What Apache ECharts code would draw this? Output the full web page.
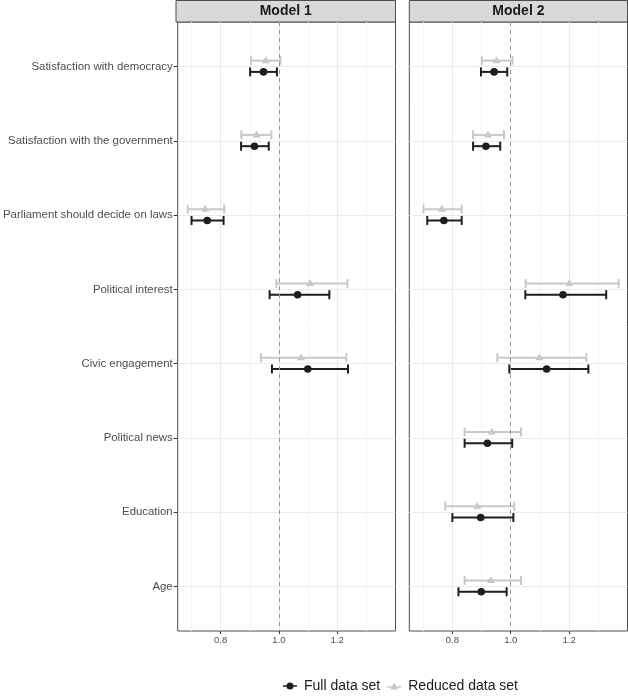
<!DOCTYPE html>
<html>
<head>
<meta charset="utf-8">
<title>Odds ratios, Model 1 and Model 2</title>
<script src="https://cdn.jsdelivr.net/npm/echarts@6/dist/echarts.min.js"></script>
<style>
    html, body { margin: 0; padding: 0; background: #fff; }
    #main { width: 628px; height: 699px; }
</style>
</head>
<body>
<div id="main"></div>
<script>
// categories, top to bottom
var categories = ['Satisfaction with democracy', 'Satisfaction with the government',
    'Parliament should decide on laws', 'Political interest', 'Civic engagement',
    'Political news', 'Education', 'Age'];
var catPositions = [1, 2, 3, 4, 5, 6, 7, 8];
var gridTicks = [0.7, 0.8, 0.9, 1.0, 1.1, 1.2, 1.3];
var labelTicks = [0.8, 1.0, 1.2];
var seriesNames = ['Full data set', 'Reduced data set'];
var modelNames = ['Model 1', 'Model 2'];

// Model 1 (only the first five predictors)
var m1FullEst  = [0.947, 0.916, 0.754, 1.064, 1.099];
var m1FullLow  = [0.901, 0.870, 0.700, 0.968, 0.976];
var m1FullHigh = [0.993, 0.965, 0.810, 1.173, 1.237];
var m1RedEst   = [0.955, 0.923, 0.747, 1.107, 1.076];
var m1RedLow   = [0.904, 0.871, 0.687, 0.991, 0.938];
var m1RedHigh  = [1.005, 0.974, 0.812, 1.235, 1.231];

// Model 2
var m2FullEst  = [0.943, 0.915, 0.771, 1.179, 1.123, 0.920, 0.897, 0.899];
var m2FullLow  = [0.898, 0.871, 0.714, 1.050, 0.995, 0.842, 0.800, 0.821];
var m2FullHigh = [0.988, 0.964, 0.832, 1.327, 1.266, 1.005, 1.009, 0.986];
var m2RedEst   = [0.951, 0.922, 0.764, 1.201, 1.098, 0.935, 0.885, 0.932];
var m2RedLow   = [0.901, 0.871, 0.701, 1.051, 0.954, 0.842, 0.776, 0.842];
var m2RedHigh  = [1.006, 0.977, 0.832, 1.370, 1.259, 1.035, 1.012, 1.035];

var fullColor = '#1e1e1e';
var redColor = '#c8c8c8';
var font = 'Liberation Sans';

// rows: [estimate, low, high, position]
function rows(est, low, high) {
    var out = [];
    for (var i = 0; i < est.length; i++) {
        out.push([est[i], low[i], high[i], catPositions[i]]);
    }
    return out;
}

// error bar + point, shifted up/down inside the row (dodge)
function errorBar(shape, shift) {
    return function (params, api) {
        var pos = api.value(3);
        var band = api.size([0, 1])[1];
        var mid = api.coord([api.value(0), pos]);
        var lo = api.coord([api.value(1), pos]);
        var hi = api.coord([api.value(2), pos]);
        var y = mid[1] + band * shift;
        var color = api.visual('color');
        var ls = {stroke: color, lineWidth: 2};
        var kids = [
            {type: 'line', shape: {x1: lo[0], y1: y, x2: hi[0], y2: y}, style: ls},
            {type: 'line', shape: {x1: lo[0], y1: y - 4.5, x2: lo[0], y2: y + 4.5}, style: ls},
            {type: 'line', shape: {x1: hi[0], y1: y - 4.5, x2: hi[0], y2: y + 4.5}, style: ls}
        ];
        if (shape === 'circle') {
            kids.push({type: 'circle', shape: {cx: mid[0], cy: y, r: 3.8}, style: {fill: color}});
        } else {
            kids.push({type: 'polygon', shape: {points: [[mid[0], y - 4.3], [mid[0] + 4, y + 2.6], [mid[0] - 4, y + 2.6]]},
                style: {fill: color}});
        }
        return {type: 'group', children: kids};
    };
}

var panels = [
    {left: 176, width: 219.5},
    {left: 409.3, width: 218.2}
];

var grids = [], xAxes = [], yAxes = [], graphics = [];
panels.forEach(function (p, k) {
    grids.push({left: p.left, top: 22, width: p.width, height: 609,
        show: true, borderColor: '#4d4d4d', borderWidth: 1, containLabel: false});
    // gridlines + labels
    xAxes.push({
        type: 'value', gridIndex: k, min: 0.6525, max: 1.4, position: 'bottom',
        axisLine: {show: false},
        axisTick: {show: false, customValues: gridTicks},
        axisLabel: {customValues: labelTicks, fontSize: 9.5, color: '#4d4d4d', margin: 4,
            formatter: function (v) { return v.toFixed(1); }},
        splitLine: {show: true, lineStyle: {color: ['#f3f3f3', '#e9e9e9'], width: 1}}
    });
    yAxes.push({
        type: 'value', gridIndex: k, inverse: true, min: 0.4, max: 8.6,
        axisLine: {show: false},
        axisTick: {show: k === 0, customValues: catPositions, length: 4, lineStyle: {color: '#333'}},
        axisLabel: {show: k === 0, customValues: catPositions, fontSize: 11.4, color: '#4d4d4d', margin: 5,
            formatter: function (v) { return categories[Math.round(v) - 1]; }},
        splitLine: {show: true, lineStyle: {color: '#ebebeb', width: 1}}
    });
    // facet strip
    graphics.push({
        type: 'rect', shape: {x: p.left, y: 0.5, width: p.width, height: 21.5},
        style: {fill: '#d9d9d9', stroke: '#4d4d4d', lineWidth: 1}, silent: true
    });
    graphics.push({
        type: 'text', x: p.left + p.width / 2, y: 11.5, silent: true,
        style: {text: modelNames[k], align: 'center', verticalAlign: 'middle',
            fontSize: 14, fontWeight: 'bold', fontFamily: font, fill: '#1a1a1a'}
    });
});
// tiny tick marks at the labelled values only
panels.forEach(function (p, k) {
    xAxes.push({
        type: 'value', gridIndex: k, min: 0.6525, max: 1.4, position: 'bottom',
        axisLine: {show: false},
        axisTick: {show: true, customValues: labelTicks, length: 3, lineStyle: {color: '#333'}},
        axisLabel: {show: false},
        splitLine: {show: false}
    });
});

var refLine = {
    silent: true, symbol: ['none', 'none'],
    label: {show: false},
    lineStyle: {color: '#999', type: [4, 4], width: 1},
    data: [{xAxis: 1}]
};

function makeSeries(name, k, data, shape, shift, color, withRef) {
    var s = {
        name: name, type: 'custom', xAxisIndex: k, yAxisIndex: k,
        renderItem: errorBar(shape, shift),
        encode: {x: [0, 1, 2], y: 3},
        itemStyle: {color: color},
        data: data, z: 3
    };
    if (withRef) s.markLine = refLine;
    return s;
}

var series = [
    makeSeries(seriesNames[0], 0, rows(m1FullEst, m1FullLow, m1FullHigh), 'circle', 0.072, fullColor, true),
    makeSeries(seriesNames[1], 0, rows(m1RedEst, m1RedLow, m1RedHigh), 'triangle', -0.08, redColor, false),
    makeSeries(seriesNames[0], 1, rows(m2FullEst, m2FullLow, m2FullHigh), 'circle', 0.072, fullColor, true),
    makeSeries(seriesNames[1], 1, rows(m2RedEst, m2RedLow, m2RedHigh), 'triangle', -0.08, redColor, false)
];

var myChart = echarts.init(document.getElementById('main'), null, {renderer: 'canvas'});
myChart.setOption({
    animation: false,
    textStyle: {fontFamily: font},
    grid: grids,
    xAxis: xAxes,
    yAxis: yAxes,
    graphic: graphics,
    legend: {
        left: 283, top: 679, padding: 0, itemWidth: 14, itemHeight: 8, itemGap: 7,
        textStyle: {fontSize: 14, color: '#1a1a1a', padding: [0, 0, 0, 2]},
        data: [
            {name: seriesNames[0], icon: 'path://M0,3.2L14,3.2L14,4.8L0,4.8Z M3.5,4A3.5,3.5,0,1,1,10.5,4A3.5,3.5,0,1,1,3.5,4Z'},
            {name: seriesNames[1], icon: 'path://M0,4.2L14,4.2L14,5.8L0,5.8Z M7,0.5L11,7.5L3,7.5Z'}
        ]
    },
    series: series
});
</script>
</body>
</html>
